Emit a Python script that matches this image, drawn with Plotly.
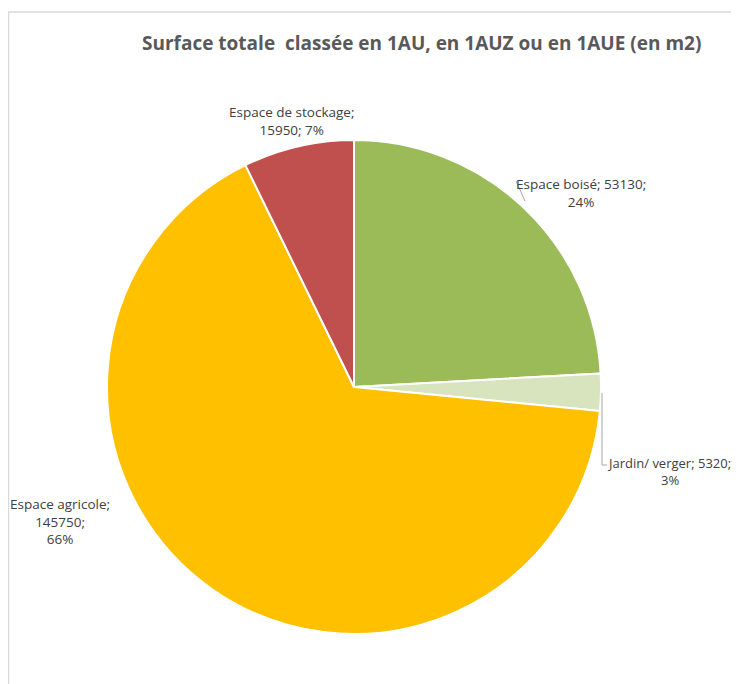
import plotly.graph_objects as go

categories = ["Espace boisé", "Jardin/ verger", "Espace agricole", "Espace de stockage"]
values = [53130, 5320, 145750, 15950]
percent_labels = ["24%", "3%", "66%", "7%"]
colours = ["#9BBB59", "#D7E4BD", "#FFC000", "#C0504D"]

OFF = 8  # page body margin of the html
W, H = 739 - OFF, 684 - OFF  # keep the figure inside the window


def px(x, y):
    """ pixel position in the screenshot -> paper coordinates """
    return (x - OFF) / W, 1 - (y - OFF) / H


# label texts built from the data, as Excel writes them
label_text = {
    "Espace boisé": "{}; {};<br>{}".format(categories[0], values[0], percent_labels[0]),
    "Jardin/ verger": "{}; {};<br>{}".format(categories[1], values[1], percent_labels[1]),
    "Espace agricole": "{};<br>{};<br>{}".format(categories[2], values[2], percent_labels[2]),
    "Espace de stockage": "{};<br>{}; {}".format(categories[3], values[3], percent_labels[3]),
}
label_pos = {
    "Espace boisé": (581, 193, 13.5),
    "Jardin/ verger": (669, 472, 13),
    "Espace agricole": (60, 521, 13.5),
    "Espace de stockage": (291, 121, 13.5),
}

cx, cy, r = 354, 387, 247
x0, y1 = px(cx - r, cy - r)
x1, y0 = px(cx + r, cy + r)

fig = go.Figure()
fig.add_trace(go.Pie(labels=categories, values=values, sort=False, direction="clockwise",
                     rotation=0, marker=dict(colors=colours, line=dict(color="white", width=2)),
                     textinfo="none", hoverinfo="label+value+percent",
                     domain=dict(x=[x0, x1], y=[y0, y1]), showlegend=False))

for name in categories:
    lx, ly, size = label_pos[name]
    lx, ly = px(lx, ly)
    fig.add_annotation(x=lx, y=ly, xref="paper", yref="paper", text=label_text[name],
                       showarrow=False, align="center", xanchor="center", yanchor="middle",
                       font=dict(family="Open Sans", size=size, color="#404040"))

# leader lines
line_style = dict(color="#A6A6A6", width=1)
for (ax, ay), (bx, by) in [((516, 181), (525, 201)), ((602, 393), (602, 465)), ((602, 465), (607, 465))]:
    p0 = px(ax, ay)
    p1 = px(bx, by)
    fig.add_shape(type="line", xref="paper", yref="paper", x0=p0[0], y0=p0[1], x1=p1[0], y1=p1[1],
                  line=line_style)

# chart frame (cropped)
fy = px(0, 12)[1]
fig.add_shape(type="rect", xref="paper", yref="paper", x0=0.5 / W, y0=-0.05, x1=1.05, y1=fy,
              line=dict(color="#D9D9D9", width=1.5))

tx, ty = px(421, 43)
fig.add_annotation(x=tx, y=ty, xref="paper", yref="paper", showarrow=False,
                   xanchor="center", yanchor="middle",
                   text="<b>Surface totale \u00a0classée en 1AU, en 1AUZ ou en 1AUE (en m2)</b>",
                   font=dict(family="Open Sans", size=19, color="#595959"))

fig.update_layout(width=W, height=H, margin=dict(l=0, r=0, t=0, b=0),
                  paper_bgcolor="white", plot_bgcolor="white")
fig.write_html("out.html")
